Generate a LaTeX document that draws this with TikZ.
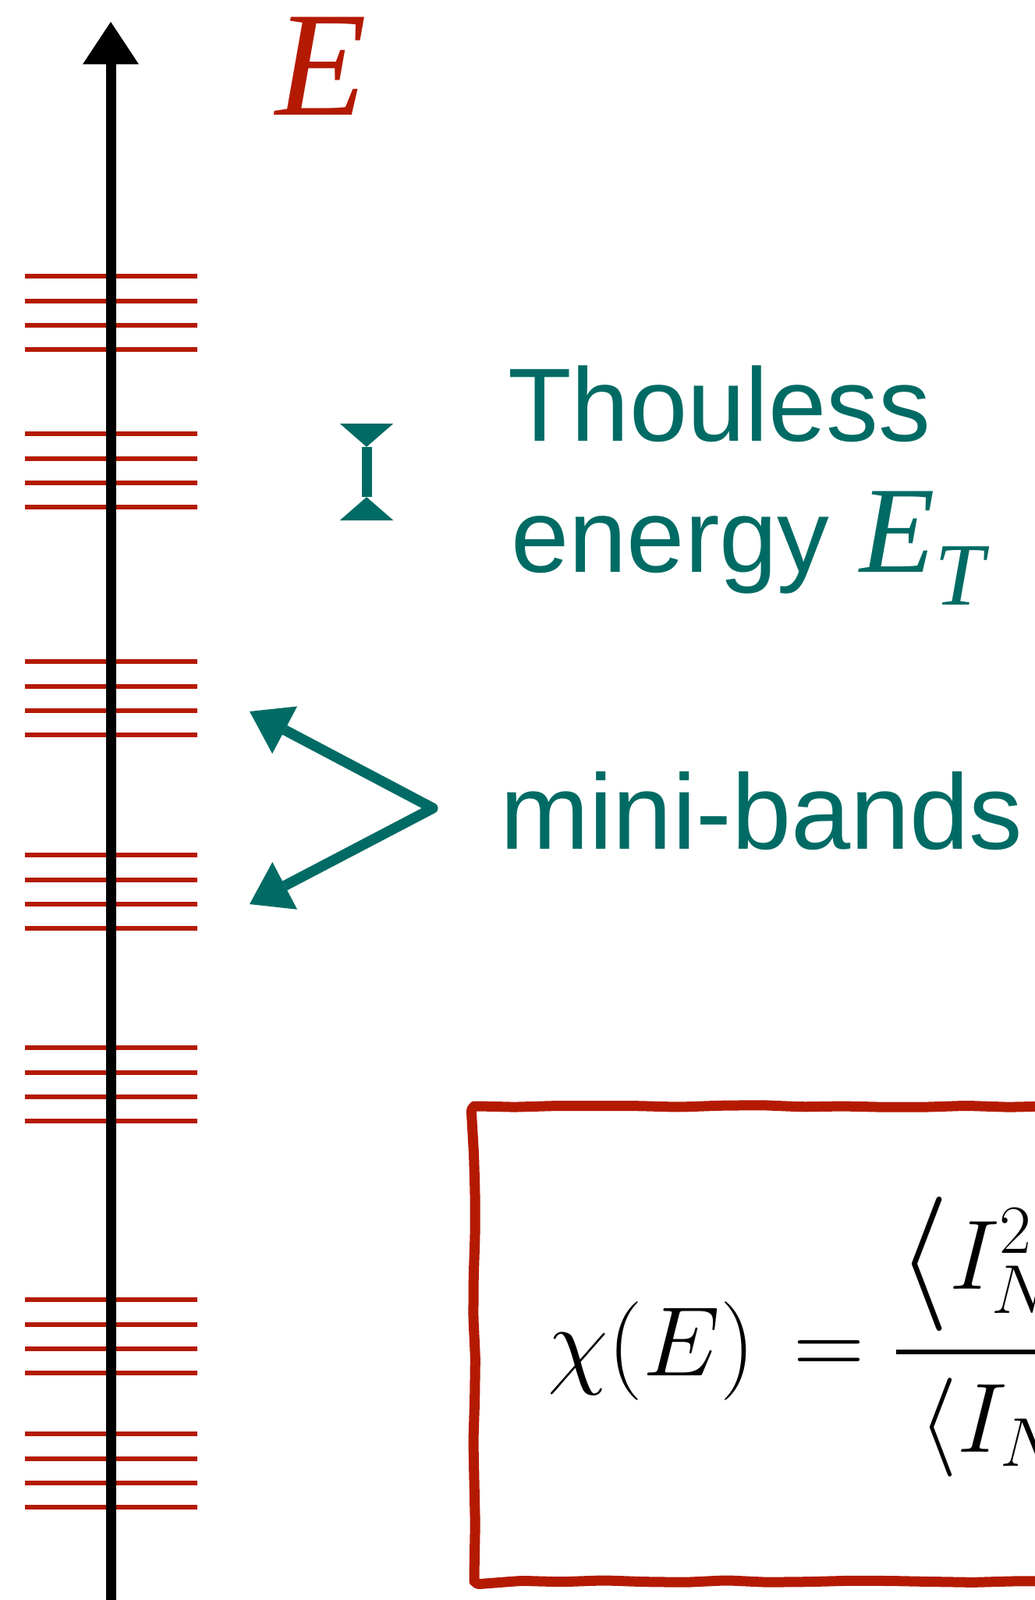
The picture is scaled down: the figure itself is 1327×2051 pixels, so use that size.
\RequirePackage{fix-cm}
\documentclass[tikz,border=0pt]{standalone}
\usepackage{amsmath}
\usepackage{fontspec}
\usepackage{tikz}
\usetikzlibrary{arrows.meta,decorations.pathmorphing}
\usepackage{xcolor}

\newfontfamily\labelfont{Liberation Sans}
\newfontfamily\timesfont{Liberation Serif}

\definecolor{bandred}{RGB}{180,26,2}
\definecolor{thoulessteal}{RGB}{0,107,100}

\newcommand{\thoulessE}{{\timesfont\itshape\fontsize{90}{90}\selectfont E\raisebox{-24pt}{\fontsize{65}{65}\selectfont T}}}

\begin{document}
\begin{tikzpicture}[x=0.02cm,y=-0.02cm,
  energylevel/.style={bandred, line width=3.6pt},
  Eaxis/.style={black, line width=7.4pt, -{Triangle[width=41pt,length=31pt,line width=0pt]}},
  Elabel/.style={bandred, inner sep=0pt, anchor=base west, font={\timesfont\itshape\fontsize{109}{120}\selectfont}},
  note/.style={thoulessteal, inner sep=0pt, anchor=base west, font={\labelfont\fontsize{76}{90}\selectfont}},
  marker/.style={thoulessteal, line width=7.4pt, {Triangle[reversed,width=39pt,length=17pt,line width=0pt]}-{Triangle[reversed,width=39pt,length=17pt,line width=0pt]}},
  pointer/.style={thoulessteal, line width=7.6pt, line join=round, {Triangle[width=39pt,length=29pt,line width=0pt]}-{Triangle[width=39pt,length=29pt,line width=0pt]}},
  formula/.style={inner sep=0pt, anchor=base west, font={\fontsize{72}{86}\selectfont}},
  boxline/.style={bandred, line width=7.4pt, line join=round, rounded corners=4pt, decorate, decoration={random steps, segment length=30pt, amplitude=0.8pt}}]
\useasboundingbox (0,0) rectangle (1327,2051);
\clip (0,0) rectangle (1327,2051);

\foreach \y in {354,556,848,1096,1343,1666,1838}
  \foreach \d in {0,32,63,94}
    \draw [energylevel] (32,\y+\d) -- (253,\y+\d);

\coordinate (axbot) at (142,2060);
\coordinate (axtop) at (142,28);
\draw [Eaxis] (axbot) -- (axtop);
\node [Elabel] (Elab) at (353,148) {E};

\coordinate (ettop) at (470,543);
\coordinate (etbot) at (470,667);
\draw [marker] (ettop) -- (etbot);
\node [note] (thou) at (651,565) {Thouless};
\node [note] (energy) at (655,733) {energy\kern22pt\thoulessE};

\coordinate (mbup) at (320,912);
\coordinate (mbtip) at (555,1036);
\coordinate (mbdown) at (320,1159);
\draw [pointer] (mbup) -- (mbtip) -- (mbdown);
\node [note, font={\labelfont\fontsize{78}{90}\selectfont}] (mini) at (641,1088) {mini-bands};

\draw [boxline] (1345,1418) -- (608,1418) -- (608,2027) -- (1345,2027);
\node [formula] (chi) at (702,1763) {$\chi(E)\mkern2mu=$};
\coordinate (barl) at (1149,1733);
\coordinate (barr) at (1345,1733);
\draw [line width=3.6pt] (barl) -- (barr);
\node [formula] (num) at (1150,1652) {$\vcenter{\hbox{\fontsize{98}{98}\selectfont$\langle$}}I_N^2$};
\node [formula] (den) at (1178,1861) {$\langle I_N$};

\end{tikzpicture}
\end{document}
